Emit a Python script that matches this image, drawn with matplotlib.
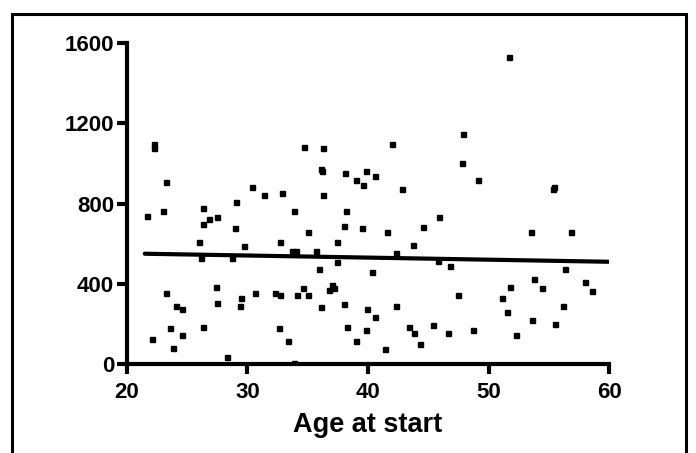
import numpy as np
import matplotlib
matplotlib.use("Agg")
import matplotlib.pyplot as plt
from matplotlib.patches import Rectangle

# points: age at start vs value
age = [22.3, 22.3, 23.3, 21.7, 23.0, 26.3, 26.3, 26.8, 27.5, 29.1,
       29.0, 30.4, 31.4, 32.9, 33.9, 34.7, 36.3, 36.1, 36.2, 36.3,
       38.1, 38.2, 38.0, 35.0, 51.7, 47.9, 42.0, 47.8, 39.8, 40.6,
       39.0, 39.6, 42.8, 49.1, 55.3, 55.4, 45.9, 39.5, 44.6, 26.0,
       29.7, 32.7, 37.4, 33.7, 34.0, 35.7, 26.2, 28.7, 37.4, 35.9,
       23.3, 27.4, 27.5, 29.5, 29.4, 30.6, 32.3, 32.7, 34.1, 34.6,
       35.0, 37.0, 36.8, 37.2, 38.0, 36.1, 24.1, 24.6, 23.6, 24.6,
       22.1, 23.8, 26.3, 32.6, 33.4, 28.3, 33.9, 38.3, 41.6, 53.5,
       56.8, 43.7, 42.3, 45.8, 46.8, 40.3, 56.3, 53.8, 58.0, 51.8,
       54.4, 58.6, 47.5, 51.1, 39.9, 42.3, 56.2, 51.5, 40.6, 39.8,
       43.4, 43.8, 45.4, 46.6, 48.7, 53.6, 55.5, 52.3, 39.0, 44.3,
       41.4]
value = [1096, 1075, 907, 738, 763, 779, 700, 723, 731, 809,
         678, 882, 842, 851, 763, 1081, 1075, 970, 962, 842,
         953, 763, 690, 660, 1529, 1146, 1098, 1002, 963, 938,
         915, 891, 874, 915, 874, 882, 731, 678, 682, 610,
         587, 610, 610, 562, 562, 562, 530, 530, 507, 474,
         355, 386, 306, 331, 290, 355, 355, 346, 346, 378,
         346, 395, 371, 378, 298, 284, 290, 275, 179, 147,
         124, 83, 187, 179, 116, 36, 5, 187, 658, 658,
         658, 594, 554, 514, 491, 458, 474, 426, 411, 386,
         378, 363, 346, 330, 275, 290, 290, 259, 235, 171,
         187, 154, 196, 154, 171, 219, 202, 146, 114, 99,
         75]

# fitted line as drawn in the picture (value = slope*age + intercept)
fit_slope = -1.04
fit_intercept = 572.5
fit_range = [21.5, 60]

xticks = [20, 30, 40, 50, 60]
yticks = [0, 400, 800, 1200, 1600]

plt.rcParams['font.family'] = ['Liberation Sans', 'DejaVu Sans']
plt.rcParams['font.weight'] = 'bold'

fig = plt.figure(figsize=(6.96, 4.53), dpi=100)
ax = fig.add_axes([0.182, 0.1958, 0.6934, 0.7099])

ax.plot(age, value, linestyle="none", marker="s", markersize=3.6, color="black")

fx = np.array(fit_range)
ax.plot(fx, fit_slope * fx + fit_intercept, color="black", linewidth=3, solid_capstyle="round")

ax.set_xlim(xticks[0], xticks[-1])
ax.set_ylim(yticks[0], yticks[-1])
ax.set_xticks(xticks)
ax.set_yticks(yticks)
for s in ["top", "right"]:
    ax.spines[s].set_visible(False)
for s in ["left", "bottom"]:
    ax.spines[s].set_linewidth(3)
ax.tick_params(axis="both", width=3, length=7, labelsize=16)
ax.tick_params(axis="x", pad=6)
ax.tick_params(axis="y", pad=2)
ax.set_xlabel("Age at start", fontsize=19.5, fontweight="bold", labelpad=6)

# frame round the figure
fig.patches.append(Rectangle((0.0168, -0.05), 0.9688, 1.019, transform=fig.transFigure,
                             fill=False, edgecolor="black", linewidth=2.2))

fig.savefig("out.png", dpi=100)
